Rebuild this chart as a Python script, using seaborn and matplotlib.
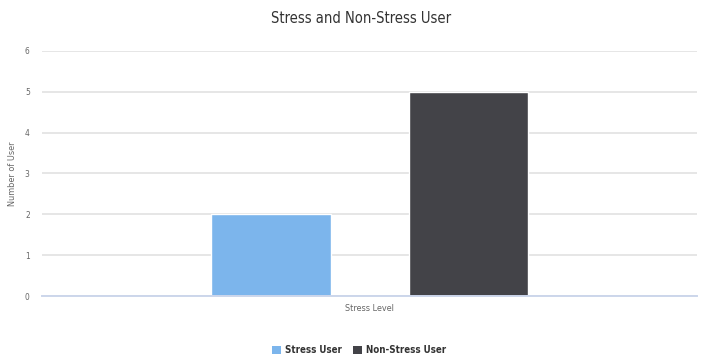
import matplotlib
matplotlib.use('Agg')
import matplotlib.pyplot as plt
import seaborn as sns
import pandas as pd
from matplotlib.patches import Patch

category = ['Stress Level']
series = ['Stress User', 'Non-Stress User']
values = [2, 5]
colors = ['#7cb5ec', '#434348']

df = pd.DataFrame({
    'level': category * len(series),
    'user': series,
    'count': values,
})

sns.set_style('white')
plt.rcParams['font.family'] = ['DejaVu Sans']
plt.rcParams['font.stretch'] = 'condensed'

fig = plt.figure(figsize=(7.04, 3.58), dpi=100)
ax = fig.add_axes([0.06, 0.173, 0.93, 0.685])

sns.barplot(data=df, x='level', y='count', hue='user', palette=colors,
            width=0.603, gap=0.396, legend=False, ax=ax, saturation=1)

ax.set_xlim(-0.5, 0.5)
ax.set_ylim(0, 6)
ax.set_yticks(range(0, 7))
ax.yaxis.grid(True, color='#e6e6e6', linewidth=1.4)
ax.set_axisbelow(True)
for s in ['top', 'right', 'left']:
    ax.spines[s].set_visible(False)
ax.spines['bottom'].set_color('#ccd6eb')
ax.spines['bottom'].set_linewidth(1.4)
ax.tick_params(axis='y', length=0, labelsize=6, labelcolor='#666666', pad=9)
ax.tick_params(axis='x', length=0, labelbottom=False)

ax.set_xlabel('Stress Level', fontsize=6.5, color='#666666', labelpad=6)
ax.set_ylabel('Number of User', fontsize=6.5, color='#666666', labelpad=6)
ax.set_title('Stress and Non-Stress User', fontsize=10.5, color='#333333',
             pad=20, x=0.487)

handles = [Patch(facecolor=c, edgecolor='none') for c in colors]
fig.legend(handles, series, loc='center', bbox_to_anchor=(0.51, 0.022),
           ncol=2, frameon=False, handlelength=0.9, handleheight=0.9,
           handletextpad=0.4, columnspacing=1.2,
           prop={'size': 7, 'weight': 'bold'}, labelcolor='#333333')

fig.savefig('out.png', dpi=100)
